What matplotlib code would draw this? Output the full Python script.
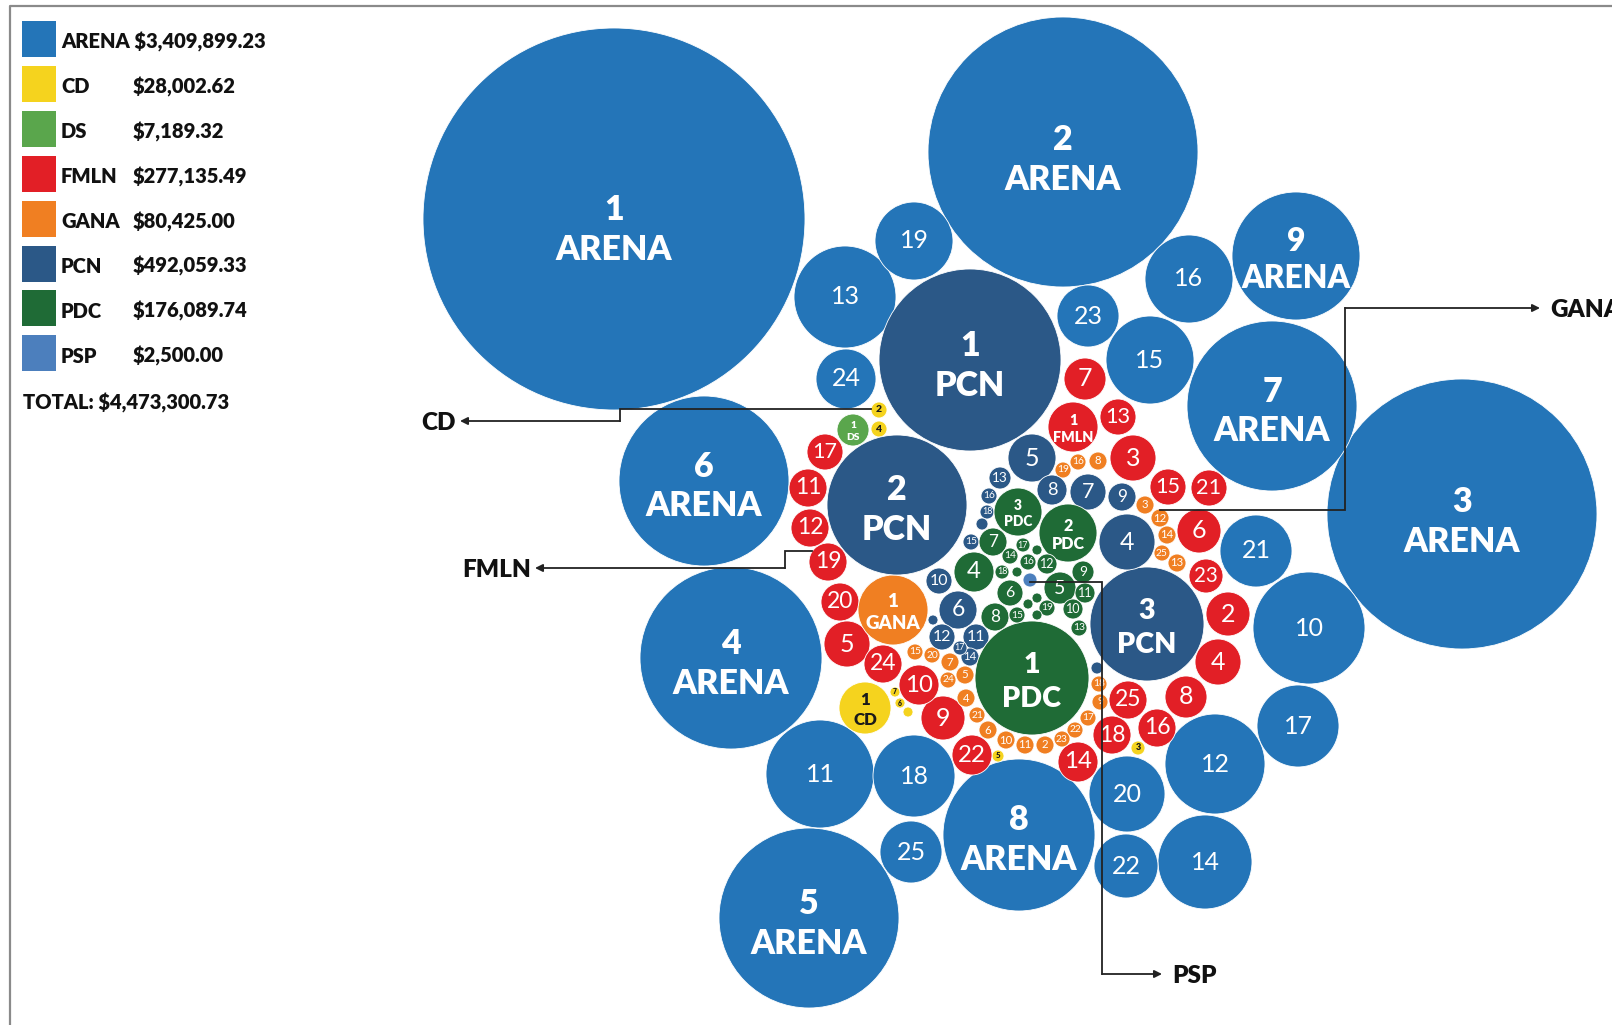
import matplotlib
matplotlib.use('Agg')
import matplotlib.pyplot as plt
from matplotlib.patches import Circle, Rectangle

plt.rcParams['font.family'] = ['Lato', 'DejaVu Sans']

# legend data
parties = ['ARENA', 'CD', 'DS', 'FMLN', 'GANA', 'PCN', 'PDC', 'PSP']
totals = ['$3,409,899.23', '$28,002.62', '$7,189.32', '$277,135.49',
          '$80,425.00', '$492,059.33', '$176,089.74', '$2,500.00']
grand_total = '$4,473,300.73'
colors = ['#2475b8', '#f5d31e', '#5aa64c', '#e21f26', '#f07f22', '#2b5887', '#1f6b36', '#4c7fbd']
named_count = [9, 1, 1, 1, 1, 3, 3, 0]   # bubbles that also show the party name

# bubbles per party: label, centre (x, y in picture pixels), radius
arena_lab = [str(i) for i in range(1, 26)]
arena_x = [614, 1063, 1462, 731, 809, 704, 1272, 1019, 1296, 1309, 820, 1215, 845,
           1205, 1150, 1189, 1298, 914, 914, 1127, 1256, 1126, 1088, 846, 911]
arena_y = [219, 152, 514, 658, 918, 481, 406, 835, 256, 628, 774, 764, 297,
           862, 360, 279, 726, 776, 241, 794, 551, 866, 316, 379, 852]
arena_r = [191, 135, 135, 91, 90, 85, 85, 76, 64, 56, 54, 50, 51,
           47, 44, 44, 41, 41, 39, 38, 36, 32, 31, 30, 31]

cd_lab = ['1', '2', '3', '4', '5', '6', '7', '']
cd_x = [865, 879, 1138, 879, 998, 900, 895, 908]
cd_y = [708, 410, 748, 429, 756, 703, 692, 712]
cd_r = [26, 8, 7, 8, 6, 5, 5, 5]

ds_lab = ['1']
ds_x = [853]
ds_y = [430]
ds_r = [16]

fmln_lab = [str(i) for i in range(1, 26)]
fmln_x = [1073, 1228, 1133, 1218, 847, 1199, 1085, 1186, 943, 919, 808, 810, 1118,
          1078, 1168, 1157, 825, 1112, 828, 840, 1209, 972, 1206, 883, 1128]
fmln_y = [427, 614, 458, 662, 644, 531, 379, 697, 718, 685, 488, 528, 417,
          762, 487, 728, 452, 735, 562, 602, 488, 755, 576, 664, 700]
fmln_r = [25, 22, 23, 23, 23, 22, 21, 21, 22, 20, 19, 19, 18,
          20, 18, 19, 18, 19, 19, 19, 18, 20, 17, 19, 19]

gana_lab = [str(i) for i in range(1, 26)]
gana_x = [893, 1045, 1145, 966, 965, 988, 950, 1098, 1100, 1006, 1025, 1160, 1177,
          1167, 915, 1078, 1088, 1099, 1063, 932, 977, 1075, 1062, 948, 1162]
gana_y = [610, 745, 505, 698, 675, 730, 662, 461, 702, 740, 745, 518, 563,
          535, 652, 462, 718, 684, 470, 655, 715, 730, 739, 680, 553]
gana_r = [35, 9, 9, 9, 9, 9, 9, 9, 8, 9, 9, 9, 9,
          9, 8, 8, 8, 8, 8, 8, 8, 8, 8, 8, 8]

pcn_lab = [str(i) for i in range(1, 19)] + ['', '', '']
pcn_x = [970, 897, 1147, 1127, 1032, 958, 1088, 1052, 1122, 939, 976, 942, 1000,
         970, 971, 989, 960, 987, 982, 933, 1097]
pcn_y = [360, 505, 624, 542, 458, 610, 492, 490, 497, 581, 637, 637, 478,
         657, 542, 496, 648, 512, 524, 620, 668]
pcn_r = [91, 70, 57, 28, 24, 19, 18, 15, 14, 13, 13, 13, 11,
         9, 8, 8, 7, 7, 6, 5, 6]

pdc_lab = [str(i) for i in range(1, 20)] + ['', '', '', '', '']
pdc_x = [1032, 1068, 1018, 974, 1060, 1010, 993, 995, 1083, 1073, 1085, 1047, 1079,
         1010, 1017, 1028, 1023, 1002, 1047, 1037, 1017, 1037, 1028, 1037]
pdc_y = [678, 533, 512, 572, 588, 593, 542, 617, 572, 609, 593, 564, 628,
         556, 615, 562, 545, 572, 608, 550, 572, 598, 604, 615]
pdc_r = [57, 29, 24, 20, 16, 13, 14, 14, 11, 10, 10, 10, 8,
         8, 8, 8, 7, 7, 8, 5, 5, 5, 5, 5]

psp_lab = ['']
psp_x = [1030]
psp_y = [580]
psp_r = [7]

bubbles = [
    (arena_lab, arena_x, arena_y, arena_r),
    (cd_lab, cd_x, cd_y, cd_r),
    (ds_lab, ds_x, ds_y, ds_r),
    (fmln_lab, fmln_x, fmln_y, fmln_r),
    (gana_lab, gana_x, gana_y, gana_r),
    (pcn_lab, pcn_x, pcn_y, pcn_r),
    (pdc_lab, pdc_x, pdc_y, pdc_r),
    (psp_lab, psp_x, psp_y, psp_r),
]

# callouts: party -> polyline (picture pixels), last point is the arrow tip
callouts = {
    'CD': [(871, 409), (620, 409), (620, 421), (460, 421)],
    'FMLN': [(812, 551), (785, 551), (785, 568), (535, 568)],
    'GANA': [(1160, 510), (1345, 510), (1345, 308), (1540, 308)],
    'PSP': [(1030, 582), (1102, 582), (1102, 974), (1162, 974)],
}

W, H = 1612, 1025
fig = plt.figure(figsize=(W / 100, H / 100), dpi=100)
ax = fig.add_axes([0, 0, 1, 1])
ax.set_xlim(0, W)
ax.set_ylim(H, 0)
ax.axis('off')

PT = 0.72  # points per pixel at dpi 100
HEAVY = 'heavy'

for p, (labs, xs, ys, rs) in enumerate(bubbles):
    dark = parties[p] == 'CD'
    txt_col = '#1a1a1a' if dark else 'white'
    for i, (lab, x, y, r) in enumerate(zip(labs, xs, ys, rs)):
        ax.add_patch(Circle((x, y), r, facecolor=colors[p], edgecolor='white', lw=0.6, zorder=2))
        if not lab:
            continue
        if i < named_count[p]:
            px = min(34, max(8, 0.45 * r + 3))
            if dark:
                px *= 1.15
            yc = y + 0.05 * r
            ax.text(x, yc - 0.55 * px, lab, ha='center', va='center', color=txt_col,
                    fontsize=px * PT, fontweight=HEAVY, zorder=3)
            ax.text(x, yc + 0.62 * px, parties[p], ha='center', va='center', color=txt_col,
                    fontsize=px * PT, fontweight=HEAVY, zorder=3)
        else:
            px = min(25, 1.15 * r + 1)
            w = HEAVY if dark else 'normal'
            ax.text(x, y, lab, ha='center', va='center', color=txt_col,
                    fontsize=px * PT, fontweight=w, zorder=3)

for name, pts in callouts.items():
    xs = [q[0] for q in pts]
    ys = [q[1] for q in pts]
    ax.plot(xs[:-1], ys[:-1], color='#222222', lw=1.3, zorder=4, solid_joinstyle='miter')
    ax.annotate('', xy=pts[-1], xytext=pts[-2],
                arrowprops=dict(arrowstyle='-|>', color='#222222', lw=1.3,
                                mutation_scale=11, shrinkA=0, shrinkB=0), zorder=4)
    left = pts[-1][0] < pts[-2][0]
    ax.text(pts[-1][0] + (-4 if left else 10), pts[-1][1] + 2, name,
            ha='right' if left else 'left', va='center', fontsize=17.5,
            fontweight=HEAVY, color='#111111', zorder=4)

# legend
for i, (name, tot) in enumerate(zip(parties, totals)):
    top = 21 + i * 44.9
    ax.add_patch(Rectangle((22, top), 34, 36, facecolor=colors[i], edgecolor='none'))
    if name == 'ARENA':
        ax.text(61, top + 21, name + ' ' + tot, ha='left', va='center', fontsize=14.5,
                fontweight=HEAVY, color='#111111')
    else:
        ax.text(61, top + 21, name, ha='left', va='center', fontsize=14.5,
                fontweight=HEAVY, color='#111111')
        ax.text(133, top + 21, tot, ha='left', va='center', fontsize=14.5,
                fontweight=HEAVY, color='#111111')
ax.text(23, 403, 'TOTAL: ' + grand_total, ha='left', va='center', fontsize=14.5,
        fontweight=HEAVY, color='#111111')

# frame (only left and top edges are inside the picture)
ax.plot([9.5, 9.5, W], [H, 6, 6], color='#8a8a8a', lw=1.6, zorder=1)

fig.savefig('out.png', dpi=100)
